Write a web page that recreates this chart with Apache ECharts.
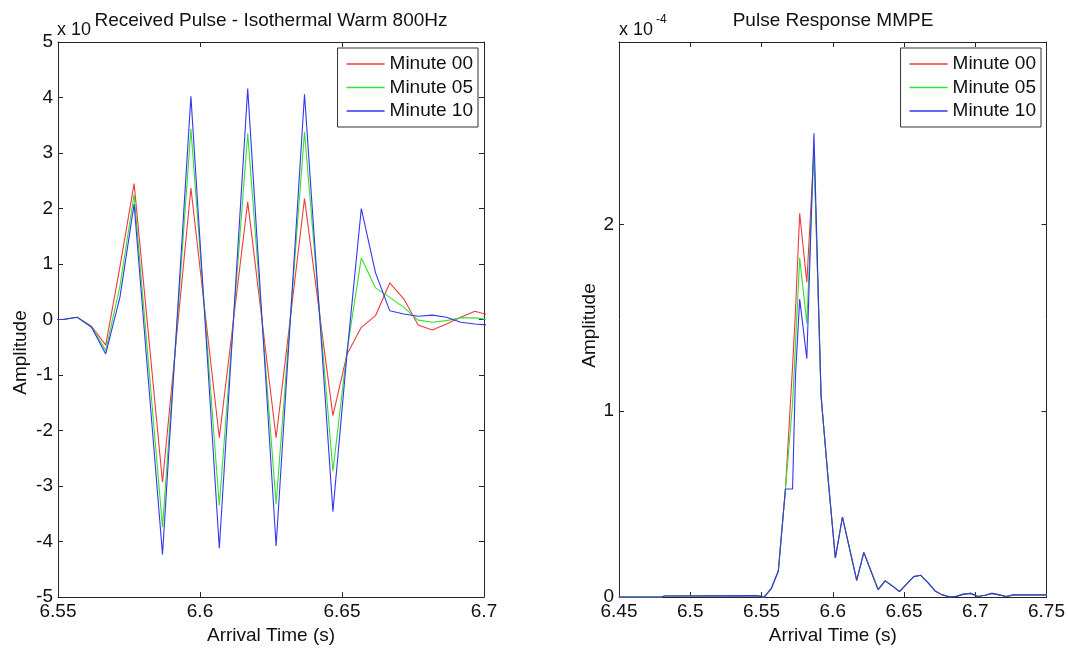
<!DOCTYPE html>
<html><head><meta charset="utf-8">
<script src="https://cdn.jsdelivr.net/npm/echarts@6/dist/echarts.min.js"></script>
<style>html,body{margin:0;padding:0;background:#fff}#c{width:1068px;height:650px}</style>
</head><body><div id="c"></div>
<script>
// ---------- data ----------
const seriesNames = ['Minute 00', 'Minute 05', 'Minute 10'];

// Left panel: Received Pulse (amplitude in units of the axis multiplier)
const leftTimes = [6.5468, 6.5518, 6.5568, 6.5618, 6.5668, 6.5718, 6.5768, 6.5818, 6.5868, 6.5918,
  6.5968, 6.6018, 6.6068, 6.6118, 6.6168, 6.6218, 6.6268, 6.6318, 6.6368, 6.6418,
  6.6468, 6.6518, 6.6568, 6.6618, 6.6668, 6.6718, 6.6768, 6.6818, 6.6868, 6.6918,
  6.6968, 6.7018];
const leftMin00 = [0, 0, 0.04, -0.12, -0.46, 0.95, 2.45, -0.24, -2.93, -0.28,
  2.37, 0.12, -2.13, 0.0, 2.12, 0.0, -2.13, 0.02, 2.18, 0.22,
  -1.73, -0.62, -0.14, 0.07, 0.66, 0.37, -0.10, -0.19, -0.08, 0.04,
  0.15, 0.08];
const leftMin05 = [0, 0, 0.04, -0.13, -0.56, 0.60, 2.25, -0.75, -3.74, -0.16,
  3.43, 0.04, -3.35, 0.0, 3.35, 0.01, -3.32, 0.03, 3.38, 0.32,
  -2.73, -0.55, 1.11, 0.57, 0.40, 0.22, -0.01, -0.05, -0.02, 0.03,
  0.03, 0.0];
const leftMin10 = [0, 0, 0.04, -0.14, -0.62, 0.40, 2.08, -1.08, -4.23, -0.10,
  4.02, -0.05, -4.12, 0.02, 4.16, 0.04, -4.08, -0.01, 4.06, 0.30,
  -3.46, -0.60, 2.00, 0.84, 0.16, 0.10, 0.06, 0.08, 0.04, -0.05,
  -0.08, -0.10];

// Right panel: Pulse Response MMPE (amplitude x 1e-4)
const rightTimes = [6.4500, 6.4800, 6.4818, 6.5468, 6.5518, 6.5568, 6.5618, 6.5668, 6.5718, 6.5738,
  6.5768, 6.5818, 6.5868, 6.5918, 6.5968, 6.6018, 6.6068, 6.6118, 6.6168, 6.6218,
  6.6268, 6.6318, 6.6368, 6.6418, 6.6468, 6.6518, 6.6568, 6.6618, 6.6668, 6.6718,
  6.6768, 6.6818, 6.6868, 6.6918, 6.6968, 6.7018, 6.7068, 6.7118, 6.7168, 6.7218,
  6.7268, 6.7500];
const rightMin00 = [0, 0, 0.006, 0.008, 0.0, 0.045, 0.14, 0.58, 1.24, 1.53,
  2.06, 1.69, 2.40, 1.08, 0.63, 0.21, 0.43, 0.26, 0.09, 0.24,
  0.14, 0.04, 0.09, 0.06, 0.03, 0.07, 0.11, 0.117, 0.078, 0.033,
  0.012, 0.002, 0.004, 0.016, 0.02, 0.003, 0.01, 0.02, 0.012, 0.003,
  0.012, 0.012];
const rightMin05 = [0, 0, 0.006, 0.008, 0.0, 0.045, 0.14, 0.58, 1.04, 1.35,
  1.82, 1.47, 2.40, 1.08, 0.63, 0.21, 0.43, 0.26, 0.09, 0.24,
  0.14, 0.04, 0.088, 0.06, 0.03, 0.07, 0.11, 0.117, 0.078, 0.033,
  0.012, 0.002, 0.004, 0.016, 0.02, 0.003, 0.01, 0.02, 0.012, 0.003,
  0.012, 0.012];
const rightMin10 = [0, 0, 0.006, 0.008, 0.0, 0.045, 0.14, 0.58, 0.58, 1.18,
  1.60, 1.28, 2.49, 1.08, 0.63, 0.21, 0.43, 0.26, 0.09, 0.24,
  0.14, 0.04, 0.086, 0.06, 0.03, 0.07, 0.11, 0.117, 0.078, 0.033,
  0.012, 0.002, 0.004, 0.016, 0.02, 0.003, 0.01, 0.02, 0.012, 0.003,
  0.012, 0.012];

// tick values
const leftXTicks = [6.55, 6.6, 6.65, 6.7];
const leftYTicks = [-5, -4, -3, -2, -1, 0, 1, 2, 3, 4, 5];
const rightXTicks = [6.45, 6.5, 6.55, 6.6, 6.65, 6.7, 6.75];
const rightYTicks = [0, 1, 2];
const rightYMax = 2.98;

// ---------- styling ----------
const FF = 'Liberation Sans, Arial, sans-serif';
const COLORS = ['#f03a3a', '#33e033', '#3535f0'];
const AX = '#262626';

function valAxis(gridIndex, min, max, interval, opts) {
  const base = {
    type: 'value', gridIndex, min, max, interval,
    axisLine: { show: true, onZero: false, lineStyle: { color: AX, width: 1 } },
    axisTick: { show: true, inside: true, length: 5, lineStyle: { color: AX, width: 1 } },
    splitLine: { show: false },
    axisLabel: { show: true, color: '#111', fontSize: 19, fontFamily: FF, margin: 5 },
    nameTextStyle: { color: '#111', fontSize: 19, fontFamily: FF }
  };
  return Object.assign(base, opts || {});
}
function hiddenLabels(a) { a.axisLabel = Object.assign({}, a.axisLabel, { show: false }); return a; }

const chart = echarts.init(document.getElementById('c'), null, { renderer: 'canvas' });

const lx0 = leftXTicks[0], lx1 = leftXTicks[leftXTicks.length - 1];
const rx0 = rightXTicks[0], rx1 = rightXTicks[rightXTicks.length - 1];
const ly0 = leftYTicks[0], ly1 = leftYTicks[leftYTicks.length - 1];

const xAxes = [
  valAxis(0, lx0, lx1, 0.05, { position: 'bottom', name: 'Arrival Time (s)', nameLocation: 'middle', nameGap: 25 }),
  hiddenLabels(valAxis(0, lx0, lx1, 0.05, { position: 'top' })),
  valAxis(1, rx0, rx1, 0.05, { position: 'bottom', name: 'Arrival Time (s)', nameLocation: 'middle', nameGap: 25 }),
  hiddenLabels(valAxis(1, rx0, rx1, 0.05, { position: 'top' }))
];
const yAxes = [
  valAxis(0, ly0, ly1, 1, { position: 'left', name: 'Amplitude', nameLocation: 'middle', nameGap: 28 }),
  hiddenLabels(valAxis(0, ly0, ly1, 1, { position: 'right' })),
  valAxis(1, rightYTicks[0], rightYMax, 1, { position: 'left', name: 'Amplitude', nameLocation: 'middle', nameGap: 19 }),
  hiddenLabels(valAxis(1, rightYTicks[0], rightYMax, 1, { position: 'right' }))
];
yAxes[0].nameTextStyle = Object.assign({}, yAxes[0].nameTextStyle, { padding: [0, 66, 0, 0] });
yAxes[2].nameTextStyle = Object.assign({}, yAxes[2].nameTextStyle, { padding: [0, 12, 0, 0] });
yAxes[2].axisLabel.showMaxLabel = false;
yAxes[2].axisLabel.formatter = v => (rightYTicks.indexOf(v) >= 0 ? String(v) : '');

function mkSeries(name, times, vals, color, xi, yi) {
  return {
    type: 'line', name, xAxisIndex: xi, yAxisIndex: yi,
    data: times.map((t, i) => [t, vals[i]]),
    symbol: 'none', smooth: false, clip: true,
    lineStyle: { width: 1.1, color }, itemStyle: { color },
    emphasis: { disabled: true }
  };
}

const legendCommon = {
  orient: 'vertical', top: 48, data: seriesNames.map(n => ({ name: n, icon: 'rect' })),
  backgroundColor: '#fff', borderColor: '#333', borderWidth: 1,
  padding: [6.5, 5, 6.5, 9], itemGap: 4.5, itemWidth: 38, itemHeight: 1.3,
  textStyle: { fontSize: 19, fontFamily: FF, color: '#111', height: 19, lineHeight: 19 }
};

chart.setOption({
  animation: false,
  grid: [
    { left: 58, top: 42, width: 426, height: 561, containLabel: false },
    { left: 619, top: 42, width: 428, height: 561, containLabel: false }
  ],
  xAxis: xAxes,
  yAxis: yAxes,
  legend: [
    Object.assign({}, legendCommon, { right: 590 }),
    Object.assign({}, legendCommon, { right: 27 })
  ],
  graphic: [
    { type: 'text', x: 271, y: 21, style: { text: 'Received Pulse - Isothermal Warm 800Hz', fontSize: 19, fontFamily: FF, fill: '#111', textAlign: 'center', textVerticalAlign: 'middle' } },
    { type: 'text', x: 833, y: 21, style: { text: 'Pulse Response MMPE', fontSize: 19, fontFamily: FF, fill: '#111', textAlign: 'center', textVerticalAlign: 'middle' } },
    { type: 'text', x: 57, y: 30, style: { text: 'x 10', fontSize: 18, fontFamily: FF, fill: '#111', textAlign: 'left', textVerticalAlign: 'middle' } },
    { type: 'text', x: 619, y: 30, style: { text: 'x 10', fontSize: 18, fontFamily: FF, fill: '#111', textAlign: 'left', textVerticalAlign: 'middle' } },
    { type: 'text', x: 656, y: 20, style: { text: '-4', fontSize: 12, fontFamily: FF, fill: '#111', textAlign: 'left', textVerticalAlign: 'middle' } }
  ],
  series: [
    mkSeries(seriesNames[0], leftTimes, leftMin00, COLORS[0], 0, 0),
    mkSeries(seriesNames[1], leftTimes, leftMin05, COLORS[1], 0, 0),
    mkSeries(seriesNames[2], leftTimes, leftMin10, COLORS[2], 0, 0),
    mkSeries(seriesNames[0], rightTimes, rightMin00, COLORS[0], 2, 2),
    mkSeries(seriesNames[1], rightTimes, rightMin05, COLORS[1], 2, 2),
    mkSeries(seriesNames[2], rightTimes, rightMin10, COLORS[2], 2, 2)
  ]
});
</script></body></html>
